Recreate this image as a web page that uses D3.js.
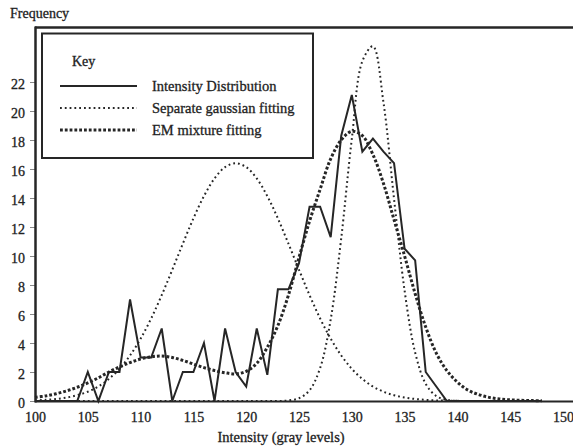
<!DOCTYPE html>
<html><head><meta charset="utf-8">
<script src="https://cdn.jsdelivr.net/npm/d3@7/dist/d3.min.js"></script>
<style>
body{margin:0;background:#fff;}
text{font-family:"Liberation Serif","DejaVu Serif",serif;fill:#222;stroke:#222;stroke-width:0.3px;}
</style></head>
<body><svg id="c" width="573" height="447"></svg>
<script>
const levels = [100,101,102,103,104,105,106,107,108,109,110,111,112,113,114,115,116,117,118,119,120,121,122,123,124,125,126,127,128,129,130,131,132,133,134,135,136,137,138,139,140,141,142,143,144,145,146,147,148];
const intensity = [0,0,0,0,0,2,0,2,2,7,3,3,5,0,2,2,4,0,5,2,1,5,1.8,7.7,7.7,9.5,13.4,13.4,11.3,18.3,21.1,17.2,18.1,17.2,16.4,10.5,9.7,2,1,0,0,0,0,0,0,0,0,0,0];
const gaussLeft = [0.04,0.08,0.14,0.24,0.40,0.64,1.00,1.52,2.22,3.14,4.30,5.69,7.30,9.05,10.85,12.59,14.13,15.35,16.13,16.4,16.13,15.35,14.13,12.59,10.85,9.05,7.30,5.69,4.30,3.14,2.22,1.52,1.00,0.64,0.40,0.24,0.14,0.08,0.04,0.02,0.01,0,0,0,0,0,0,0,0];
const gaussRight = [0,0,0,0,0,0,0,0,0,0,0,0,0,0,0,0,0,0,0,0,0,0,0,0,0.04,0.19,0.74,2.27,5.62,11.23,18.07,23.43,24.46,20.58,13.94,7.61,3.34,1.18,0.34,0.08,0.01,0,0,0,0,0,0,0,0];
const emFit = [0.25,0.35,0.5,0.7,0.95,1.25,1.6,2.0,2.35,2.65,2.9,3.05,3.1,3.0,2.8,2.55,2.3,2.1,1.95,1.87,2.05,2.6,3.7,5.2,7.3,9.9,12.4,14.6,16.7,18.0,18.6,18.3,17.0,15.0,12.5,10.0,7.4,5.1,3.3,2.1,1.3,0.75,0.45,0.25,0.14,0.08,0.05,0.03,0.02];
const xTicks = [100,105,110,115,120,125,130,135,140,145,150];
const yTicks = [0,2,4,6,8,10,12,14,16,18,20,22];
const legendLabels = ["Intensity Distribution","Separate gaussian fitting","EM mixture fitting"];

const svg = d3.select("#c");
const x = d3.scaleLinear().domain([100,150]).range([35,563]);
const y = d3.scaleLinear().domain([0,22]).range([401,82]);
const ink = "#262626";

const styles = [
  {w:2.0, dash:null},
  {w:2.0, dash:"1.8,3"},
  {w:3.0, dash:"2.8,2"}
];

// axes
const xa = svg.append("g").attr("transform","translate(0,401)")
  .call(d3.axisBottom(x).tickValues(xTicks).tickSize(0).tickPadding(11).tickFormat(d3.format("d")));
xa.select(".domain").remove();
xa.selectAll("text").style("font-size","14px").attr("fill",ink);

const ya = svg.append("g").attr("transform","translate(35,0)")
  .call(d3.axisLeft(y).tickValues(yTicks).tickSize(5).tickPadding(5).tickFormat(d3.format("d")));
ya.select(".domain").remove();
ya.selectAll("line").attr("stroke","#888").attr("stroke-width",1);
ya.selectAll("text").style("font-size","14px").attr("fill",ink).attr("dy","0.45em");

// lines
const lineLin = d3.line().x((d,i)=>x(levels[i])).y(d=>y(d));
const lineSmooth = d3.line().x((d,i)=>x(levels[i])).y(d=>y(d)).curve(d3.curveCatmullRom.alpha(0.5));

svg.append("path").datum(gaussLeft).attr("d",lineSmooth).attr("fill","none")
  .attr("stroke",ink).attr("stroke-width",styles[1].w).attr("stroke-dasharray",styles[1].dash);
svg.append("path").datum(gaussRight).attr("d",lineSmooth).attr("fill","none")
  .attr("stroke",ink).attr("stroke-width",styles[1].w).attr("stroke-dasharray",styles[1].dash);
svg.append("path").datum(emFit).attr("d",lineSmooth).attr("fill","none")
  .attr("stroke",ink).attr("stroke-width",styles[2].w).attr("stroke-dasharray",styles[2].dash);
svg.append("path").datum(intensity).attr("d",lineLin).attr("fill","none")
  .attr("stroke",ink).attr("stroke-width",styles[0].w).attr("stroke-linejoin","miter");

// frame
svg.append("line").attr("x1",35).attr("x2",573).attr("y1",27.5).attr("y2",27.5).attr("stroke",ink).attr("stroke-width",2.5);
svg.append("line").attr("x1",35.5).attr("x2",35.5).attr("y1",26.5).attr("y2",402.5).attr("stroke",ink).attr("stroke-width",2.5);
svg.append("line").attr("x1",35).attr("x2",573).attr("y1",401.5).attr("y2",401.5).attr("stroke",ink).attr("stroke-width",2);

// legend
svg.append("rect").attr("x",42).attr("y",33.5).attr("width",271).attr("height",124.5)
  .attr("fill","#fff").attr("stroke",ink).attr("stroke-width",2);
svg.append("text").attr("x",72).attr("y",66).style("font-size","14px").text("Key");
const rowsY = [86,108,130];
legendLabels.forEach((lab,i)=>{
  svg.append("line").attr("x1",60).attr("x2",137).attr("y1",rowsY[i]).attr("y2",rowsY[i])
    .attr("stroke",ink).attr("stroke-width",styles[i].w).attr("stroke-dasharray",styles[i].dash);
  svg.append("text").attr("x",152).attr("y",rowsY[i]+5).style("font-size","14.5px").text(lab);
});

// titles
svg.append("text").attr("x",10).attr("y",18).style("font-size","14px").text("Frequency");
svg.append("text").attr("x",281).attr("y",442).attr("text-anchor","middle").style("font-size","14.5px").text("Intensity (gray levels)");
</script></body></html>
